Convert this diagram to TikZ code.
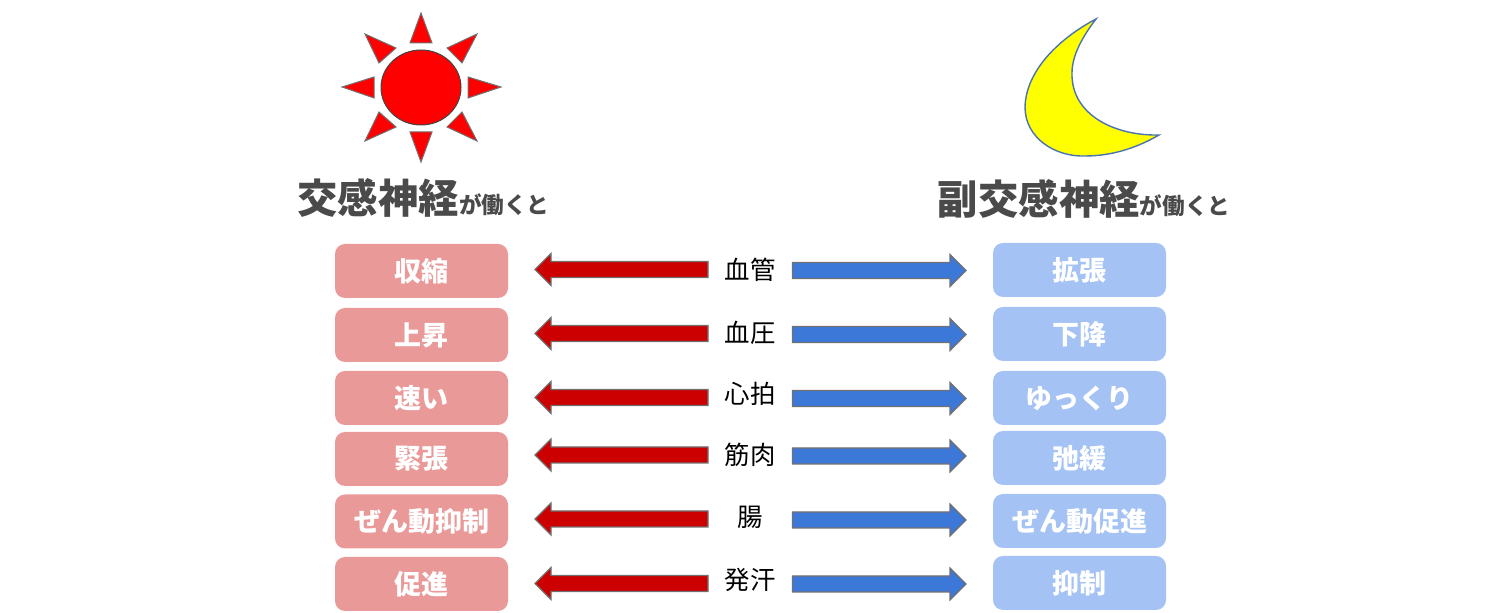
\documentclass[tikz,border=0pt]{standalone}
\usepackage{fontspec}
\setmainfont{Noto Sans CJK JP}
\usetikzlibrary{calc}
\definecolor{rosebox}{HTML}{EA9999}
\definecolor{bleubox}{HTML}{A4C2F4}
\definecolor{rougefl}{HTML}{CC0000}
\definecolor{bleufl}{HTML}{3C78D8}
\definecolor{grisfl}{HTML}{707070}
\definecolor{gristitre}{HTML}{4A4A4A}
\definecolor{bordlune}{HTML}{4A74B0}
\definecolor{jaunelune}{HTML}{FFFF00}
\begin{document}
\begin{tikzpicture}[x=0.5pt,y=-0.5pt]
\tikzset{
	etat/.style={rounded corners=5pt,minimum width=86.5pt,minimum height=27pt,inner sep=0pt,outer xsep=13.5pt,outer ysep=0pt,text=white,font=\fontsize{13.5}{16}\selectfont\bfseries},
	organe/.style={inner sep=0pt,text=black,font=\fontsize{12.7}{15}\selectfont},
	titre/.style={inner sep=0pt,text=gristitre,font=\bfseries},
	rayon/.style={draw=grisfl,fill=red,line width=0.5pt,line join=miter},
	fleche/.style={draw=grisfl,line width=0.6pt,to path={
		let \p1=(\tikztostart),\p2=(\tikztotarget),\n1={sign(\x2-\x1)} in
		(\x1,\y1+4pt) -- ({\x2-\n1*8pt},\y1+4pt) -- ({\x2-\n1*8pt},\y1+8pt) -- (\x2,\y1)
		-- ({\x2-\n1*8pt},\y1-8pt) -- ({\x2-\n1*8pt},\y1-4pt) -- (\x1,\y1-4pt) -- cycle}},
}
\useasboundingbox (0,0) rectangle (1500,613);

% le soleil
\draw[fill=red,draw=grisfl!60!black,line width=0.5pt] (421,87.5) ellipse [x radius=40,y radius=37.5];
\draw[rayon] (421,13) -- (432,43) -- (410,43) -- cycle;
\draw[rayon] (421,162) -- (432,132) -- (410,132) -- cycle;
\draw[rayon] (342,87) -- (374,77) -- (374,98) -- cycle;
\draw[rayon] (501,87) -- (468,77) -- (468,98) -- cycle;
\draw[rayon] (365,34) -- (396,48) -- (379,63) -- cycle;
\draw[rayon] (477,34) -- (447,48) -- (462,63) -- cycle;
\draw[rayon] (365,141) -- (379,112) -- (396,127) -- cycle;
\draw[rayon] (477,141) -- (462,112) -- (447,127) -- cycle;

% la lune
\draw[fill=jaunelune,draw=bordlune,line width=0.7pt] (1096,19) .. controls (1060,38) and (1026,70) .. (1025,107)
	.. controls (1025,138) and (1055,157) .. (1085,156)
	.. controls (1115,156) and (1140,146) .. (1159,135)
	.. controls (1115,136) and (1071,115) .. (1072,73)
	.. controls (1072,55) and (1083,36) .. (1096,19) -- cycle;

% les titres
\node[titre] (sympa) at (423.5,197.5) {\fontsize{20.2}{24}\selectfont 交感神経\fontsize{11.3}{14}\selectfont が働くと};
\node[titre] (parasympa) at (1084,198.5) {\fontsize{20.2}{24}\selectfont 副交感神経\fontsize{11.3}{14}\selectfont が働くと};

% les lignes du tableau
\foreach \i/\org/\ty/\gauche/\gy/\droite/\dy/\fg/\fd in {
	1/血管/270/収縮/271/拡張/270/269.5/270.5,
	2/血圧/333/上昇/335/下降/334/333.5/334.5,
	3/心拍/394/速い/398/ゆっくり/398/397.5/398.5,
	4/筋肉/455/緊張/459/弛緩/458/455/456,
	5/腸/517/ぜん動抑制/521.5/ぜん動促進/521/519/520,
	6/発汗/580/促進/584/抑制/583/583.5/584}{
	\node[organe] (org\i) at (750,\ty) {\org};
	\node[etat,fill=rosebox] (sym\i) at (421.5,\gy) {\gauche};
	\node[etat,fill=bleubox] (para\i) at (1079.5,\dy) {\droite};
	\coordinate (dg\i) at (708,\fg);
	\coordinate (dd\i) at (792.5,\fd);
	\draw[fleche,fill=rougefl] (dg\i) to (sym\i.east);
	\draw[fleche,fill=bleufl] (dd\i) to (para\i.west);
}
\end{tikzpicture}
\end{document}
